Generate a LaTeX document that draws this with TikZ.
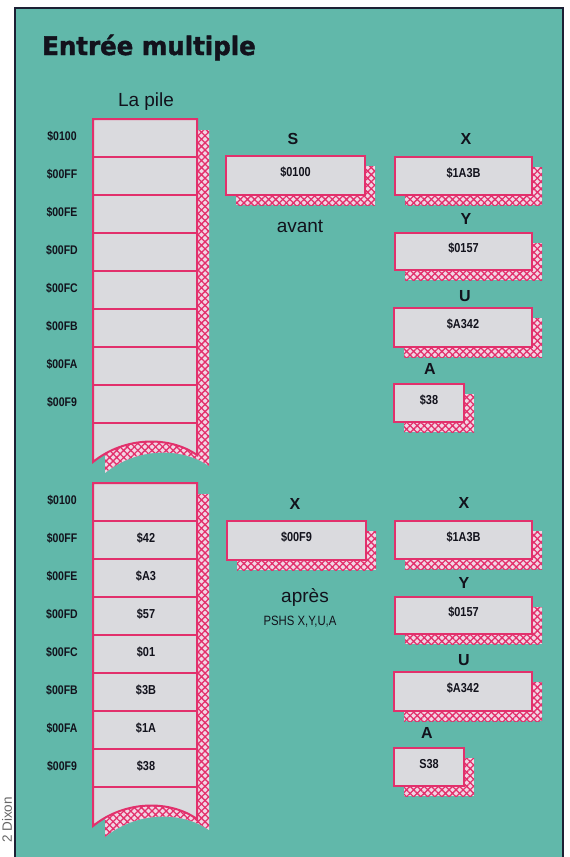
\documentclass[tikz,border=0pt]{standalone}
\usepackage{fontspec}
\setmainfont{Liberation Sans}
\newfontfamily\condf[FakeStretch=0.84]{Liberation Sans}
\newfontfamily\titlef[FakeBold=1.6,FakeStretch=0.96]{DejaVu Sans}
\usetikzlibrary{patterns.meta}
\definecolor{bgteal}{RGB}{97,184,170}
\definecolor{pinkline}{RGB}{226,48,108}
\definecolor{cellgray}{RGB}{218,218,222}
\definecolor{navyline}{RGB}{28,32,52}
\definecolor{inkc}{RGB}{18,18,28}
\definecolor{shadowbase}{RGB}{242,214,228}
\tikzset{
  shadowst/.style={preaction={fill=shadowbase}, pattern={Hatch[distance=5pt,angle=45,line width=1.3pt]}, pattern color=pinkline},
  boxst/.style={draw=pinkline, line width=2pt, fill=cellgray},
  outlinest/.style={draw=pinkline, line width=2pt},
  rowline/.style={draw=pinkline, line width=2pt},
  addrst/.style={font=\condf\bfseries\fontsize{12.5}{14}\selectfont, text=inkc, inner sep=0pt, anchor=base},
  valst/.style={font=\condf\bfseries\fontsize{13}{15}\selectfont, text=inkc, inner sep=0pt, anchor=base},
  regst/.style={font=\bfseries\fontsize{16}{18}\selectfont, text=inkc, inner sep=0pt, anchor=base},
  capst/.style={font=\fontsize{19}{22}\selectfont, text=inkc, inner sep=0pt, anchor=base},
  smallst/.style={font=\condf\fontsize{13.5}{16}\selectfont, text=inkc, inner sep=0pt, anchor=base},
}
\newcommand\regbox[6]{%
  \path[shadowst] (#2+10,#3+10) rectangle (#4+10,#5+10);
  \path[boxst] (#2,#3) rectangle (#4,#5);
  \node[valst] (#1) at ({(#2+#4)/2},{(#3+#5)/2+1}) {#6};
}
\begin{document}
\begin{tikzpicture}[x=1pt,y=-1pt]
\useasboundingbox (0,0) rectangle (570,857);
\fill[white] (0,0) rectangle (570,857);
% panel
\fill[bgteal] (15,8) rectangle (563,857);
\draw[navyline, line width=2pt] (15,857) -- (15,8) -- (563,8) -- (563,857);
% margin credit
\node[rotate=90, anchor=base east, inner sep=0pt, text=black!60, font=\fontsize{13.5}{16}\selectfont] (credit) at (12,797) {2 Dixon};
% title
\node[anchor=base west, inner sep=0pt, text=inkc, font=\titlef\bfseries\fontsize{25.5}{29}\selectfont] (title) at (42,55) {Entrée multiple};
\node[capst] (pile) at (146,106) {La pile};

% ---------- two stacks ----------
\foreach \sh/\tag in {0/t,-364/b} {
\begin{scope}[yshift=\sh pt]
  \path[shadowst, shift={(12,11)}] (93,119) -- (197,119) -- (197,455) .. controls (170,436) and (125,436) .. (93,462) -- cycle;
  \path[fill=cellgray] (93,119) -- (197,119) -- (197,455) .. controls (170,436) and (125,436) .. (93,462) -- cycle;
  \foreach \i in {1,...,8} \draw[rowline] (93,{119+38*\i}) -- (197,{119+38*\i});
  \draw[outlinest, line join=miter] (93,119) -- (197,119) -- (197,455) .. controls (170,436) and (125,436) .. (93,462) -- cycle;
  \foreach \a [count=\i from 0] in {0100,00FF,00FE,00FD,00FC,00FB,00FA,00F9}
    \node[addrst] (ad\tag\a) at (62,{140+38*\i}) {\$\a};
\end{scope}
}

% ---------- avant ----------
\node[regst] (lS) at (293,144) {S};
\regbox{rS}{226}{156}{365}{195}{\$0100}
\node[capst] (avant) at (300,232) {avant};

\node[regst] (lX) at (466,144) {X};
\regbox{rX}{395}{157}{532}{195}{\$1A3B}
\node[regst] (lY) at (466,224) {Y};
\regbox{rY}{395}{233}{532}{270}{\$0157}
\node[regst] (lU) at (465,301) {U};
\regbox{rU}{394}{308}{532}{347}{\$A342}
\node[regst] (lA) at (430,374) {A};
\regbox{rA}{394}{384}{464}{422}{\$38}

% ---------- apres ----------
\foreach \v [count=\i from 1] in {42,A3,57,01,3B,1A,38}
  \node[valst] (val\i) at (146,{483+38*\i+21}) {\$\v};

\node[regst] (lX2) at (295,509) {X};
\regbox{rX2}{227}{521}{366}{560}{\$00F9}
\node[capst] (apres) at (305,602) {après};
\node[smallst] (pshs) at (300,625) {PSHS X,Y,U,A};

\node[regst] (lXb) at (464,508) {X};
\regbox{rXb}{395}{521}{532}{559}{\$1A3B}
\node[regst] (lYb) at (464,588) {Y};
\regbox{rYb}{395}{597}{532}{634}{\$0157}
\node[regst] (lUb) at (464,665) {U};
\regbox{rUb}{394}{672}{532}{711}{\$A342}
\node[regst] (lAb) at (427,738) {A};
\regbox{rAb}{394}{748}{464}{786}{S38}
\end{tikzpicture}
\end{document}
